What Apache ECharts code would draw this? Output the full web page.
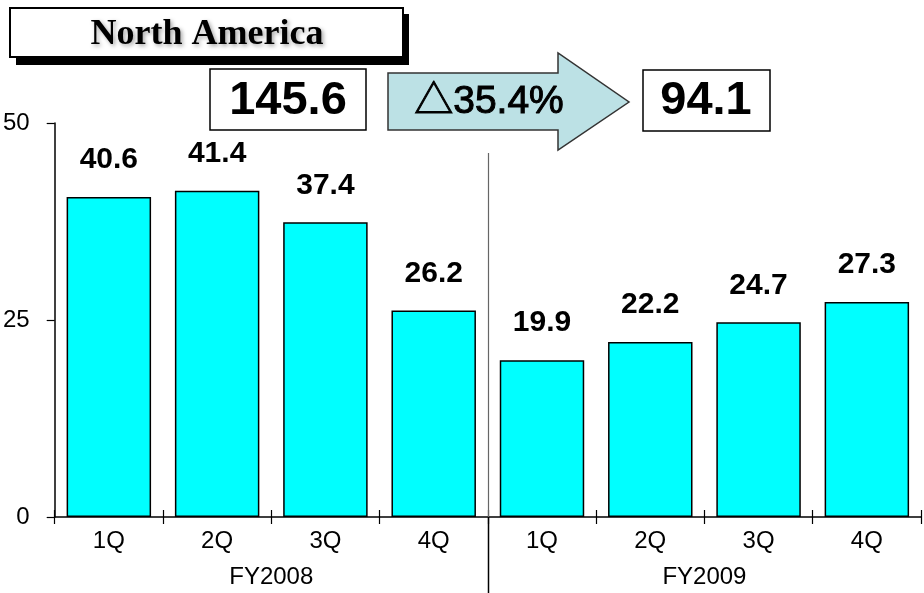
<!DOCTYPE html>
<html>
<head>
<meta charset="utf-8">
<script src="https://cdn.jsdelivr.net/npm/echarts@6/dist/echarts.min.js"></script>
<style>
  html, body { margin: 0; padding: 0; background: #fff; }
  #chart { width: 924px; height: 593px; }
</style>
</head>
<body>
<div id="chart"></div>
<script>
// Quarterly sales, North America
const quarters = ['1Q', '2Q', '3Q', '4Q', '1Q', '2Q', '3Q', '4Q'];
const fiscalYears = ['FY2008', 'FY2009'];
const sales = [40.6, 41.4, 37.4, 26.2, 19.9, 22.2, 24.7, 27.3];
const yTicks = { min: 0, max: 50, interval: 25 };
const totalPrev = '145.6';
const totalCurr = '94.1';
const changeText = '\u25B335.4%';

const SANS = '"Liberation Sans", Arial, "Noto Sans CJK JP", sans-serif';

const chart = echarts.init(document.getElementById('chart'), null, { renderer: 'canvas' });

const option = {
  animation: false,
  backgroundColor: '#ffffff',
  grid: { left: 49, right: 3, top: 123, bottom: 76, containLabel: false },
  xAxis: [
    {
      type: 'category',
      data: quarters,
      axisLine: { show: true, lineStyle: { color: '#000', width: 1.5 } },
      axisTick: { show: true, length: 7, lineStyle: { color: '#000', width: 1.2 } },
      axisLabel: { color: '#000', fontSize: 24, fontFamily: SANS, margin: 12 },
      splitLine: { show: false }
    },
    {
      // upward half of the crossing ticks
      type: 'category',
      data: quarters,
      position: 'bottom',
      axisLine: { show: false },
      axisTick: { show: true, inside: true, length: 7, lineStyle: { color: '#000', width: 1.2 } },
      axisLabel: { show: false },
      splitLine: { show: false }
    },
    {
      type: 'category',
      data: fiscalYears,
      position: 'bottom',
      axisLine: { show: false },
      axisTick: { show: false },
      axisLabel: { color: '#000', fontSize: 24, fontFamily: SANS, margin: 48 },
      splitLine: { show: false }
    }
  ],
  yAxis: {
    type: 'value',
    min: yTicks.min,
    max: yTicks.max,
    interval: yTicks.interval,
    axisLine: { show: true, lineStyle: { color: '#000', width: 1.5 } },
    axisTick: { show: true, length: 8, lineStyle: { color: '#000', width: 1.2 } },
    axisLabel: { color: '#000', fontSize: 24, fontFamily: SANS, margin: 25 },
    splitLine: { show: false }
  },
  series: [
    {
      type: 'bar',
      xAxisIndex: 0,
      data: sales,
      barCategoryGap: '22%',
      itemStyle: { color: '#00FFFF', borderColor: '#000', borderWidth: 1.5 },
      label: {
        show: true,
        position: 'top',
        distance: 22,
        color: '#000',
        fontSize: 30,
        fontWeight: 'bold',
        fontFamily: SANS,
        formatter: p => p.value.toFixed(1)
      }
    }
  ]
};

chart.setOption(option);

// Divider between the two fiscal years, placed on the category boundary
const xA = chart.convertToPixel({ xAxisIndex: 0 }, 3);
const xB = chart.convertToPixel({ xAxisIndex: 0 }, 4);
const divX = Math.round((xA + xB) / 2) + 0.5;
const baseY = chart.convertToPixel({ yAxisIndex: 0 }, 0);

chart.setOption({
  graphic: [
    // year divider
    { type: 'line', shape: { x1: divX, y1: 153, x2: divX, y2: baseY }, style: { stroke: '#666', lineWidth: 1.2 }, z: 5 },
    { type: 'line', shape: { x1: divX, y1: baseY, x2: divX, y2: 593 }, style: { stroke: '#000', lineWidth: 1.5 }, z: 5 },

    // title box with drop shadow
    { type: 'rect', shape: { x: 16, y: 14, width: 393, height: 51 }, style: { fill: '#000' }, z: 10 },
    { type: 'rect', shape: { x: 10, y: 8, width: 393, height: 49 }, style: { fill: '#fff', stroke: '#000', lineWidth: 2 }, z: 11 },
    {
      type: 'text', x: 207, y: 35, z: 12,
      style: {
        text: 'North America', fill: '#000',
        font: 'bold 36px "Liberation Serif", "Times New Roman", serif',
        textAlign: 'center', textVerticalAlign: 'middle',
        textShadowColor: 'rgba(0,0,0,0.35)', textShadowBlur: 4, textShadowOffsetX: 2, textShadowOffsetY: 2
      }
    },

    // previous-year total
    { type: 'rect', shape: { x: 210, y: 69, width: 156, height: 61 }, style: { fill: '#fff', stroke: '#000', lineWidth: 1.5 }, z: 10 },
    {
      type: 'text', x: 288, y: 101, z: 11,
      style: { text: totalPrev, fill: '#000', font: 'bold 47px ' + SANS, textAlign: 'center', textVerticalAlign: 'middle' }
    },

    // change arrow
    {
      type: 'polygon', z: 10,
      shape: { points: [[388, 73], [558, 73], [558, 53], [629, 102], [558, 150], [558, 130], [388, 130]] },
      style: { fill: '#BCE1E5', stroke: '#333', lineWidth: 1.5 }
    },
    {
      type: 'text', x: 489, y: 102, z: 11,
      style: {
        text: changeText, fill: '#000', stroke: '#000', lineWidth: 1,
        font: '39px ' + SANS, textAlign: 'center', textVerticalAlign: 'middle'
      }
    },

    // current-year total
    { type: 'rect', shape: { x: 643, y: 70, width: 127, height: 61 }, style: { fill: '#fff', stroke: '#000', lineWidth: 1.5 }, z: 10 },
    {
      type: 'text', x: 706, y: 101, z: 11,
      style: { text: totalCurr, fill: '#000', font: 'bold 47px ' + SANS, textAlign: 'center', textVerticalAlign: 'middle' }
    }
  ]
});
</script>
</body>
</html>
